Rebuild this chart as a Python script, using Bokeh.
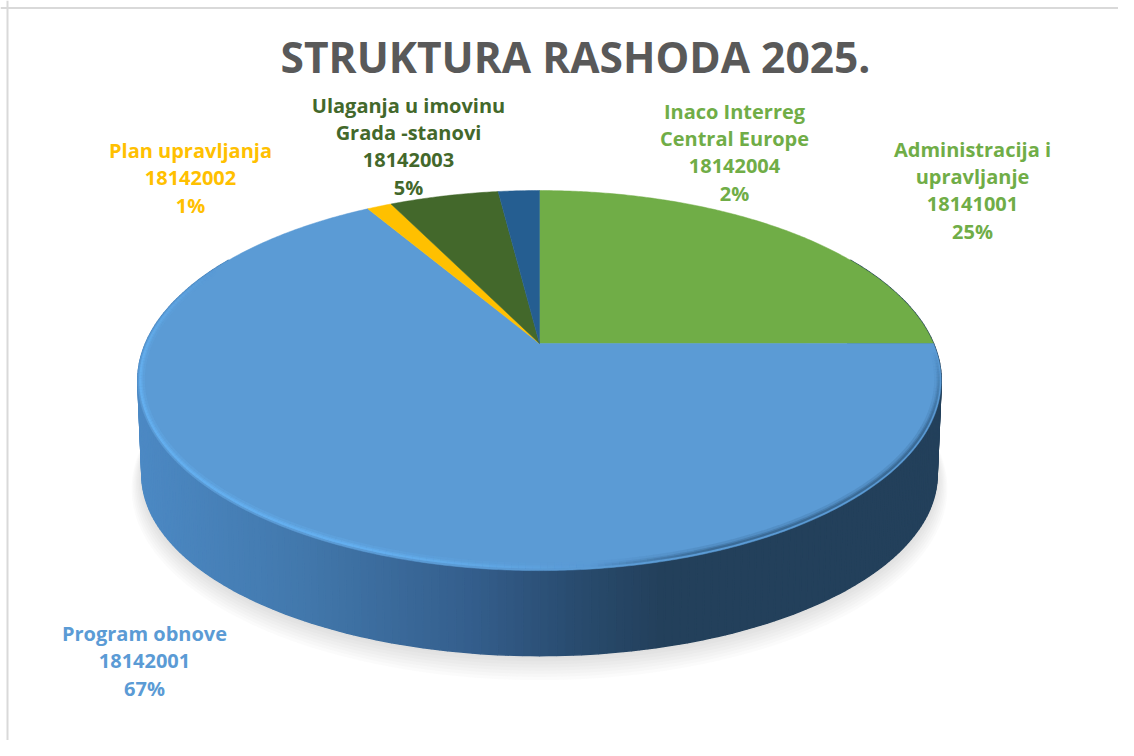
import numpy as np
from bokeh.plotting import figure
from bokeh.models import Range1d, Span
from bokeh.core.properties import value
from bokeh.embed import file_html
from bokeh.resources import INLINE

# ---- data ----
title_text = "STRUKTURA RASHODA 2025."
categories = ["Administracija i upravljanje", "Program obnove", "Plan upravljanja",
              "Ulaganja u imovinu Grada -stanovi", "Inaco Interreg Central Europe"]
codes = ["18141001", "18142001", "18142002", "18142003", "18142004"]
# the labels show these rounded
shares = [25.0, 66.5, 1.2, 5.3, 2.0]
colors = ["#70AD47", "#5B9BD5", "#FFC000", "#43682B", "#255E91"]
label_lines = [
    ["Administracija i", "upravljanje", "18141001", "25%"],
    ["Program obnove", "18142001", "67%"],
    ["Plan upravljanja", "18142002", "1%"],
    ["Ulaganja u imovinu", "Grada -stanovi", "18142003", "5%"],
    ["Inaco Interreg", "Central Europe", "18142004", "2%"],
]
label_colors = ["#70AD47", "#5B9BD5", "#FFC000", "#43682B", "#70AD47"]
# layout: centre x and first-line centre y of each label (pixels)
label_x = [972, 144, 190, 408, 734]
label_y = [149, 633, 150, 105, 111]
LINE_H = 27.3
FONT = "Open Sans"

# ---- geometry of the tilted disc ----
CX, CY = 539.0, 343.0
BX, AY, K = 394.0, 182.8, 0.195
BX2, AY2, CY2 = 390.0, 174.0, 439.0

def top_pt(theta, inset=0.0):
    u, v = np.sin(theta), np.cos(theta)
    w = 1 + K * v
    return CX + (BX - inset) * u / w, CY - (AY - inset) * v / w

def bot_pt(theta, grow=0.0, dy=0.0):
    u, v = np.sin(theta), np.cos(theta)
    w = 1 + K * v
    return CX + (BX2 + grow) * u / w, CY2 + dy - (AY2 + grow) * v / w

p = figure(width=1118, height=740, x_range=Range1d(0, 1118), y_range=Range1d(740, 0),
           output_backend="svg", toolbar_location=None, min_border=0,
           x_axis_type=None, y_axis_type=None, outline_line_color=None,
           background_fill_color="white", border_fill_color="white")
p.grid.visible = False

# frame of the picture
p.add_layout(Span(location=7, dimension="height", line_color="#d9d9d9", line_width=2))
p.add_layout(Span(location=7.5, dimension="width", line_color="#d9d9d9", line_width=2))

# soft shadow under the disc
circle = np.linspace(0, 2 * np.pi, 241)
for i in range(8):
    sx, sy = bot_pt(circle, grow=10 - i * 1.4, dy=12 - i * 1.4)
    p.patch(sx, sy, fill_color="#808080", fill_alpha=0.035, line_color=None)

# shaded side wall
stop_x = [135, 300, 470, 570, 660, 945]
stop_rgb = np.array([[76, 137, 196], [66, 120, 172], [52, 94, 140],
                     [41, 76, 112], [35, 64, 91], [35, 64, 91]], dtype=float)

def shade(x):
    rgb = [np.interp(x, stop_x, stop_rgb[:, c]) for c in range(3)]
    return "#%02x%02x%02x" % tuple(int(round(c)) for c in rgb)

edges = np.radians(np.linspace(60, 300, 241))
xs, ys, fills = [], [], []
for a, b in zip(edges[:-1], edges[1:]):
    tx, ty = top_pt(np.array([a, b]))
    bx, by = bot_pt(np.array([b, a]))
    xs.append(list(tx) + list(bx))
    ys.append(list(ty) + list(by))
    fills.append(shade(tx.mean()))
p.patches(xs, ys, fill_color=fills, line_color=fills, line_width=1.5)

# slices of the top face
cum = np.cumsum([0] + shares) / sum(shares) * 2 * np.pi
for start, end, col in zip(cum[:-1], cum[1:], colors):
    arc = np.linspace(start, end, max(3, int((end - start) * 120)))
    ax, ay = top_pt(arc)
    p.patch([CX] + list(ax), [CY] + list(ay), fill_color=col, line_color=col, line_width=0.5)

# soft bevel along the front rim of the blue slice: light on the left, dark on the right
rim = np.radians(np.linspace(92, 296, 240))
for inset, w_scale, a_scale in [(4.0, 3.0, 0.25), (3.0, 1.8, 0.45), (2.5, 1.0, 0.75)]:
    rx, ry = top_pt(rim, inset=inset)
    rim_x, rim_y, rim_c, rim_a = [], [], [], []
    for i in range(len(rim) - 1):
        mx = (rx[i] + rx[i + 1]) / 2
        deg = np.degrees(rim[i])
        fade = float(np.clip((296 - deg) / 40, 0, 1))
        fade_r = float(np.clip((deg - 92) / 25, 0, 1))
        rim_x.append([rx[i], rx[i + 1]])
        rim_y.append([ry[i], ry[i + 1]])
        if mx < 590:
            t = np.clip((590 - mx) / 240, 0, 1)
            rim_c.append("#66b2f2")
            rim_a.append(float(t * a_scale * fade))
        else:
            t = np.clip((mx - 590) / 120, 0, 1)
            rim_c.append("#2f5a80")
            rim_a.append(float(t * a_scale * 0.7 * fade_r))
    p.multi_line(rim_x, rim_y, line_color=rim_c, line_alpha=rim_a, line_width=2.0 * w_scale)

# title
p.text([575], [55.5], text=[title_text], text_font=value(FONT), text_font_style="bold",
       text_font_size="42.5px", text_color="#595959", text_align="center", text_baseline="middle")

# data labels
for lines, lx, ly, col in zip(label_lines, label_x, label_y, label_colors):
    p.text([lx] * len(lines), [ly + j * LINE_H for j in range(len(lines))], text=lines,
           text_font=value(FONT), text_font_style="bold", text_font_size="20px",
           text_color=col, text_align="center", text_baseline="middle")

open("out.html", "w").write(file_html(p, INLINE))
